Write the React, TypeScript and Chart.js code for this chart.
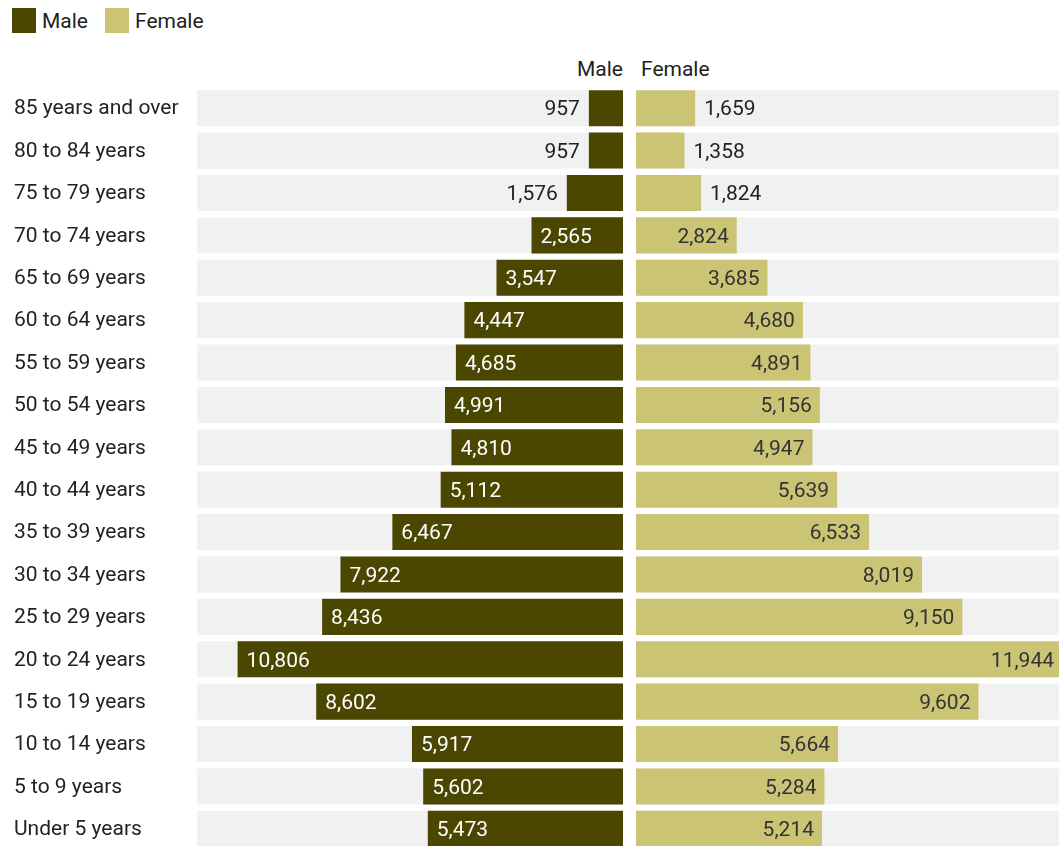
import React, { useEffect, useRef } from "react";
import { Chart, registerables } from "chart.js";

Chart.register(...registerables);

const categories = [
  "85 years and over",
  "80 to 84 years",
  "75 to 79 years",
  "70 to 74 years",
  "65 to 69 years",
  "60 to 64 years",
  "55 to 59 years",
  "50 to 54 years",
  "45 to 49 years",
  "40 to 44 years",
  "35 to 39 years",
  "30 to 34 years",
  "25 to 29 years",
  "20 to 24 years",
  "15 to 19 years",
  "10 to 14 years",
  "5 to 9 years",
  "Under 5 years",
];
const maleValues = [957, 957, 1576, 2565, 3547, 4447, 4685, 4991, 4810, 5112, 6467, 7922, 8436, 10806, 8602, 5917, 5602, 5473];
const femaleValues = [1659, 1358, 1824, 2824, 3685, 4680, 4891, 5156, 4947, 5639, 6533, 8019, 9150, 11944, 9602, 5664, 5284, 5214];
const seriesNames = ["Male", "Female"];
const seriesColors = ["#4b4700", "#ccc475"];
const axisMax = Math.max(...maleValues, ...femaleValues);

const FONT = "Roboto, 'Noto Sans', sans-serif";
const FS = 21;
const BAND = "#f1f1f1";
const TEXT = "#222222";

function fmt(v: number) {
  return v.toLocaleString("en-US");
}

function makePlugin(side: "left" | "right") {
  return {
    id: "bandsAndLabels" + side,
    beforeDatasetsDraw(chart: any) {
      const { ctx, chartArea } = chart;
      const meta = chart.getDatasetMeta(0);
      ctx.save();
      ctx.fillStyle = BAND;
      meta.data.forEach((el: any) => {
        ctx.fillRect(chartArea.left, el.y - el.height / 2, chartArea.right - chartArea.left, el.height);
      });
      ctx.restore();
    },
    afterDatasetsDraw(chart: any) {
      const { ctx } = chart;
      const meta = chart.getDatasetMeta(0);
      const values = chart.data.datasets[0].data as number[];
      ctx.save();
      ctx.font = `${FS}px ${FONT}`;
      ctx.textBaseline = "middle";
      meta.data.forEach((el: any, i: number) => {
        const txt = fmt(values[i]);
        const tw = ctx.measureText(txt).width;
        const barLen = Math.abs(el.base - el.x);
        const inside = barLen >= tw + 18;
        const ty = el.y + 2;
        if (side === "left") {
          const leftEdge = Math.min(el.x, el.base);
          if (inside) {
            ctx.fillStyle = "#ffffff";
            ctx.textAlign = "left";
            ctx.fillText(txt, leftEdge + 9, ty);
          } else {
            ctx.fillStyle = TEXT;
            ctx.textAlign = "right";
            ctx.fillText(txt, leftEdge - 9, ty);
          }
        } else {
          const rightEdge = Math.max(el.x, el.base);
          if (inside) {
            ctx.fillStyle = "#333333";
            ctx.textAlign = "right";
            ctx.fillText(txt, rightEdge - 8, ty);
          } else {
            ctx.fillStyle = TEXT;
            ctx.textAlign = "left";
            ctx.fillText(txt, rightEdge + 9, ty);
          }
        }
      });
      ctx.restore();
    },
  };
}

export default function App() {
  const leftRef = useRef<HTMLCanvasElement>(null);
  const rightRef = useRef<HTMLCanvasElement>(null);

  useEffect(() => {
    const common = {
      indexAxis: "y" as const,
      responsive: false,
      animation: false as const,
      plugins: { legend: { display: false }, tooltip: { enabled: false } },
    };
    const left = new Chart(leftRef.current!, {
      type: "bar",
      data: {
        labels: categories,
        datasets: [
          {
            label: seriesNames[0],
            data: maleValues,
            backgroundColor: seriesColors[0],
            categoryPercentage: 1,
            barPercentage: 0.85,
          },
        ],
      },
      options: {
        ...common,
        layout: { padding: { left: 14, top: 87, right: 0, bottom: 20 } },
        scales: {
          x: { type: "linear", min: 0, max: axisMax, reverse: true, display: false },
          y: {
            type: "category",
            position: "left",
            grid: { display: false },
            border: { display: false },
            ticks: {
              color: TEXT,
              font: { family: FONT, size: FS },
              crossAlign: "far",
              padding: 0,
              labelOffset: 1,
            },
            afterFit: (scale: any) => {
              scale.width = 197 - 14;
            },
          },
        },
      },
      plugins: [makePlugin("left")],
    } as any);
    const right = new Chart(rightRef.current!, {
      type: "bar",
      data: {
        labels: categories,
        datasets: [
          {
            label: seriesNames[1],
            data: femaleValues,
            backgroundColor: seriesColors[1],
            categoryPercentage: 1,
            barPercentage: 0.85,
          },
        ],
      },
      options: {
        ...common,
        layout: { padding: { left: 0, top: 87, right: 0, bottom: 0 } },
        scales: {
          x: { type: "linear", min: 0, max: axisMax, display: false },
          y: { type: "category", display: false },
        },
      },
      plugins: [makePlugin("right")],
    } as any);
    return () => {
      left.destroy();
      right.destroy();
    };
  }, []);

  const textStyle: React.CSSProperties = {
    fontFamily: FONT,
    fontSize: FS,
    color: TEXT,
    lineHeight: "24px",
    whiteSpace: "nowrap",
  };

  return (
    <div
      style={{
        position: "absolute",
        left: 0,
        top: 0,
        width: 1059,
        height: 846,
        overflow: "hidden",
        background: "#ffffff",
      }}
    >
      {seriesNames.map((name, i) => (
        <div
          key={name}
          style={{
            position: "absolute",
            left: i === 0 ? 12 : 105,
            top: 8,
            display: "flex",
            alignItems: "center",
            gap: 6,
          }}
        >
          <div style={{ width: 24, height: 25, background: seriesColors[i] }} />
          <span style={textStyle}>{name}</span>
        </div>
      ))}
      <div style={{ ...textStyle, position: "absolute", left: 0, width: 623, top: 57, textAlign: "right" }}>
        {seriesNames[0]}
      </div>
      <div style={{ ...textStyle, position: "absolute", left: 641, top: 57 }}>{seriesNames[1]}</div>
      <canvas ref={leftRef} width={623} height={870} style={{ position: "absolute", left: 0, top: 0 }} />
      <canvas ref={rightRef} width={426} height={850} style={{ position: "absolute", left: 636, top: 0 }} />
    </div>
  );
}
